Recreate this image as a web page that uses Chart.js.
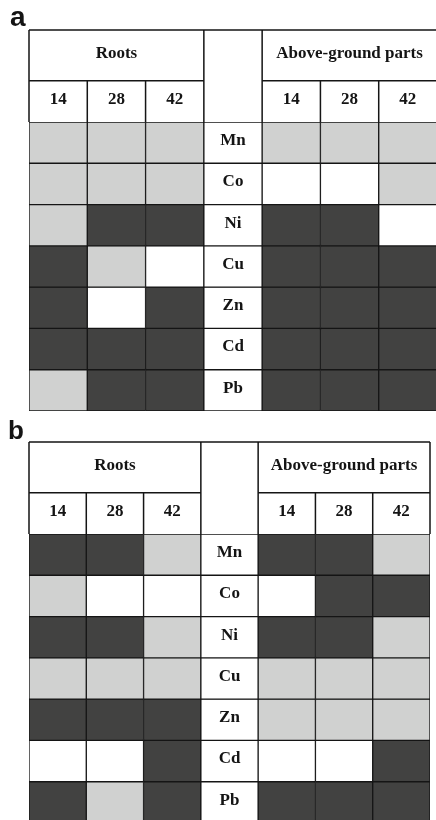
<!DOCTYPE html>
<html><head><meta charset="utf-8">
<script src="https://cdn.jsdelivr.net/npm/chart.js@4/dist/chart.umd.min.js"></script>
<style>
html,body{margin:0;padding:0;background:#fff;overflow:hidden;width:436px;height:820px;}
.panel{position:absolute;left:0;}
.tag{position:absolute;font-family:"Liberation Sans",Arial,sans-serif;font-weight:bold;color:#141414;}
</style></head><body>
<div class="panel" style="top:0"><canvas id="ca" width="437" height="413"></canvas></div>
<div class="tag" style="left:10px;top:3px;font-size:28px;line-height:28px">a</div>
<div class="panel" style="top:412px"><canvas id="cb" width="431" height="413"></canvas></div>
<div class="tag" style="left:8px;top:417px;font-size:26px;line-height:26px">b</div>
<script>
// ---- data ----
const elements = ['Mn', 'Co', 'Ni', 'Cu', 'Zn', 'Cd', 'Pb'];
const days = ['14', '28', '42'];
const groups = ['Roots', 'Above-ground parts'];
// cell level per element (rows) and day (cols): 2 = dark, 1 = light grey, 0 = white
const rootsA  = [[1,1,1],[1,1,1],[1,2,2],[2,1,0],[2,0,2],[2,2,2],[1,2,2]];
const shootsA = [[1,1,1],[0,0,1],[2,2,0],[2,2,2],[2,2,2],[2,2,2],[2,2,2]];
const rootsB  = [[2,2,1],[1,0,0],[2,2,1],[1,1,1],[2,2,2],[0,0,2],[2,1,2]];
const shootsB = [[2,2,1],[0,2,2],[2,2,1],[1,1,1],[1,1,1],[0,0,2],[2,2,2]];

// ---- style / layout ----
const LEVEL_COLORS = ['#ffffff', '#d0d1d0', '#424241'];
const LINE = '#151515';
const TEXT = '#141414';
const HEAD_FONT = 'bold 17px "Liberation Serif", "Times New Roman", serif';
const HEADER_TOP = 30;
const BASE_SHIFT = 2.3;

const columns = [...days.map(d => 'R' + d), 'label', ...days.map(d => 'A' + d)];

function buildDatasets(roots, shoots) {
  return elements.map((el, i) => ({
    label: el,
    data: columns.map(() => 1),
    backgroundColor: [
      ...roots[i].map(v => LEVEL_COLORS[v]),
      '#ffffff',
      ...shoots[i].map(v => LEVEL_COLORS[v])
    ]
  }));
}

const tablePlugin = {
  id: 'tableHeader',
  afterDatasetsDraw(chart) {
    const {ctx} = chart;
    ctx.save();
    ctx.font = HEAD_FONT;
    ctx.fillStyle = TEXT;
    ctx.textAlign = 'center';
    ctx.textBaseline = 'alphabetic';
    chart.data.datasets.forEach((ds, i) => {
      const bar = chart.getDatasetMeta(i).data[3];
      const p = bar.getProps(['x', 'y', 'base'], true);
      ctx.fillText(ds.label, p.x, (p.y + p.base) / 2 + BASE_SHIFT);
    });
    ctx.restore();
  },
  afterDraw(chart) {
    const {ctx, chartArea: ca, scales: {x, y}} = chart;
    const rowH = Math.abs(y.getPixelForValue(1) - y.getPixelForValue(0));
    const half = (x.getPixelForValue(1) - x.getPixelForValue(0)) / 2;
    const edge = i => (i >= columns.length ? ca.right : x.getPixelForValue(i) - half);
    const subTop = ca.top - rowH;
    const top = HEADER_TOP;
    ctx.save();
    ctx.strokeStyle = LINE;
    ctx.lineWidth = 1.5;
    ctx.beginPath();
    const seg = (x1, y1, x2, y2) => { ctx.moveTo(x1, y1); ctx.lineTo(x2, y2); };
    seg(ca.left, top, ca.right, top);
    seg(ca.left, subTop, edge(3), subTop);
    seg(edge(4), subTop, ca.right, subTop);
    [0, 3, 4, 7].forEach(i => seg(edge(i), top, edge(i), ca.top));
    [1, 2, 5, 6].forEach(i => seg(edge(i), subTop, edge(i), ca.top));
    ctx.stroke();

    ctx.font = HEAD_FONT;
    ctx.fillStyle = TEXT;
    ctx.textAlign = 'center';
    ctx.textBaseline = 'alphabetic';
    const titleMid = (top + subTop) / 2;
    ctx.fillText(groups[0], (edge(0) + edge(3)) / 2, titleMid + BASE_SHIFT);
    ctx.fillText(groups[1], (edge(4) + edge(7)) / 2, titleMid + BASE_SHIFT);
    const subMid = (subTop + ca.top) / 2;
    [0, 1, 2].forEach(k => {
      ctx.fillText(days[k], x.getPixelForValue(k), subMid + BASE_SHIFT);
      ctx.fillText(days[k], x.getPixelForValue(k + 4), subMid + BASE_SHIFT);
    });
    ctx.restore();
  }
};

function makeChart(id, roots, shoots, padRight) {
  return new Chart(document.getElementById(id), {
    type: 'bar',
    data: { labels: columns, datasets: buildDatasets(roots, shoots) },
    options: {
      responsive: false,
      animation: false,
      events: [],
      layout: { padding: { left: 29, right: padRight, top: 122, bottom: 2 } },
      datasets: {
        bar: {
          barPercentage: 1,
          categoryPercentage: 1,
          borderWidth: 1,
          borderSkipped: false,
          borderColor: LINE
        }
      },
      plugins: { legend: { display: false }, tooltip: { enabled: false } },
      scales: {
        x: { type: 'category', stacked: true, display: false },
        y: { type: 'linear', stacked: true, display: false, min: 0, max: elements.length, reverse: true }
      }
    },
    plugins: [tablePlugin]
  });
}

makeChart('ca', rootsA, shootsA, 0);
makeChart('cb', rootsB, shootsB, 1);
</script>
</body></html>
